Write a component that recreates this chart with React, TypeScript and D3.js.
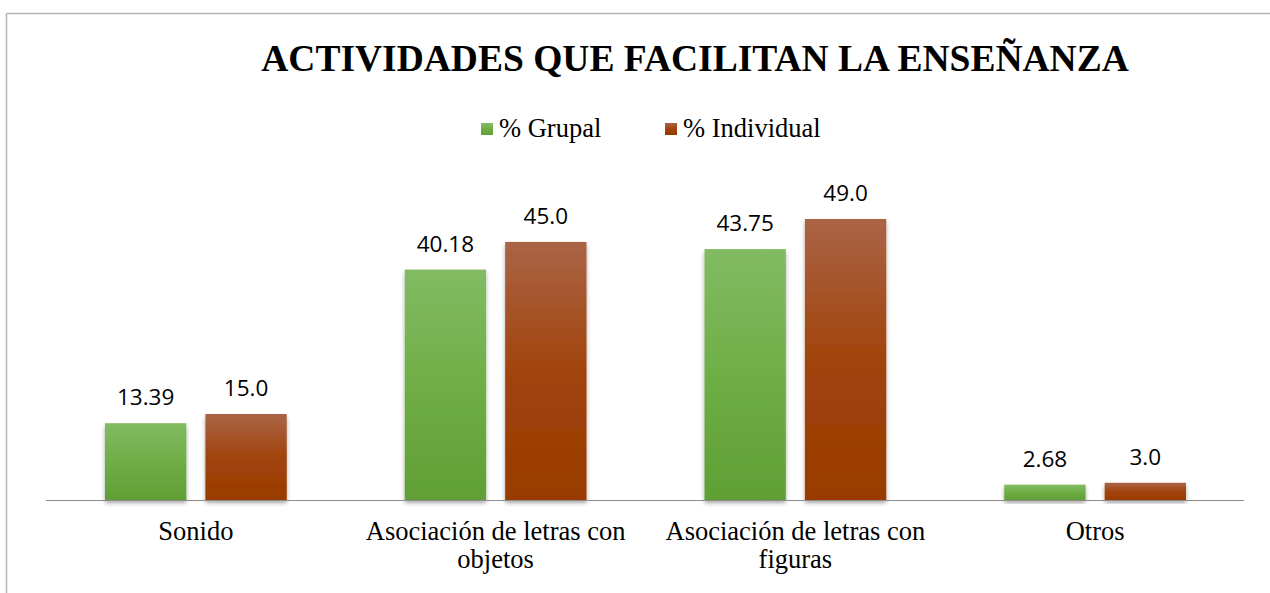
import React from 'react';
import * as d3 from 'd3';

const categories = ['Sonido', 'Asociación de letras con objetos', 'Asociación de letras con figuras', 'Otros'];
const categoryLines = [['Sonido'], ['Asociación de letras con', 'objetos'], ['Asociación de letras con', 'figuras'], ['Otros']];
const series = ['% Grupal', '% Individual'];
const grupal = [13.39, 40.18, 43.75, 2.68];
const individual = [15.0, 45.0, 49.0, 3.0];
const grupalLabels = ['13.39', '40.18', '43.75', '2.68'];
const individualLabels = ['15.0', '45.0', '49.0', '3.0'];

const W = 1270;
const H = 593;
const margin = { left: 46, right: 25, top: 185, bottom: 93 };

const App = () => {
  const chartW = W - margin.left - margin.right;
  const baseY = H - margin.bottom;

  const x0 = d3.scaleBand().domain(categories).range([margin.left, margin.left + chartW]);
  const x1 = d3.scaleBand().domain(series).range([59, x0.bandwidth() - 59]).paddingInner(0.19);
  const y = d3.scaleLinear().domain([0, 55]).range([baseY, baseY - 55 * 5.735]);

  const values = [grupal, individual];
  const labels = [grupalLabels, individualLabels];
  const fills = ['url(#gGreen)', 'url(#gRed)'];

  return (
    <svg width={W} height={H} style={{ display: 'block', position: 'absolute', left: 0, top: 0 }}>
      <defs>
        <linearGradient id="gGreen" x1="0" y1="0" x2="0" y2="1">
          <stop offset="0" stopColor="#82bb63" />
          <stop offset="0.5" stopColor="#6fae46" />
          <stop offset="1" stopColor="#5f9f34" />
        </linearGradient>
        <linearGradient id="gRed" x1="0" y1="0" x2="0" y2="1">
          <stop offset="0" stopColor="#aa6446" />
          <stop offset="0.5" stopColor="#a1440c" />
          <stop offset="1" stopColor="#993b00" />
        </linearGradient>
        <filter id="shadow" x="-10%" y="-10%" width="120%" height="130%">
          <feDropShadow dx="0" dy="3" stdDeviation="2" floodColor="#000" floodOpacity="0.35" />
        </filter>
      </defs>
      <rect x={0} y={0} width={W} height={H} fill="#fff" />
      <line x1={6.5} y1={13.5} x2={W} y2={13.5} stroke="#b3b3b3" strokeWidth={1.5} />
      <line x1={6.5} y1={13.5} x2={6.5} y2={H} stroke="#b3b3b3" strokeWidth={1.5} />

      <text x={695} y={71} textAnchor="middle" fontFamily="Liberation Serif" fontWeight="bold" fontSize={37.5}>
        ACTIVIDADES QUE FACILITAN LA ENSEÑANZA
      </text>

      {/* legend */}
      {series.map((s, i) => (
        <g key={s} transform={`translate(${[481, 665][i]},0)`}>
          <rect x={0} y={123} width={12} height={12} fill={fills[i]} />
          <text x={18} y={137} fontFamily="Liberation Serif" fontSize={26.5}>{s}</text>
        </g>
      ))}

      {categories.map((c, ci) => (
        <g key={c} transform={`translate(${x0(c)},0)`}>
          {series.map((s, si) => {
            const v = values[si][ci];
            const bx = x1(s) as number;
            return (
              <g key={s}>
                <rect
                  x={bx}
                  y={y(v)}
                  width={x1.bandwidth()}
                  height={baseY - y(v)}
                  fill={fills[si]}
                  filter="url(#shadow)"
                />
                <text
                  x={bx + x1.bandwidth() / 2}
                  y={y(v) - 18}
                  textAnchor="middle"
                  fontFamily="Open Sans"
                  fontSize={22.5}
                  fill="#000"
                >
                  {labels[si][ci]}
                </text>
              </g>
            );
          })}
          {categoryLines[ci].map((line, li) => (
            <text
              key={li}
              x={x0.bandwidth() / 2}
              y={540 + li * 28}
              textAnchor="middle"
              fontFamily="Liberation Serif"
              fontSize={26.5}
            >
              {line}
            </text>
          ))}
        </g>
      ))}

      <line x1={margin.left} y1={baseY + 0.5} x2={margin.left + chartW - 1} y2={baseY + 0.5} stroke="#8c8c8c" strokeWidth={1.2} />
    </svg>
  );
};

export default App;
